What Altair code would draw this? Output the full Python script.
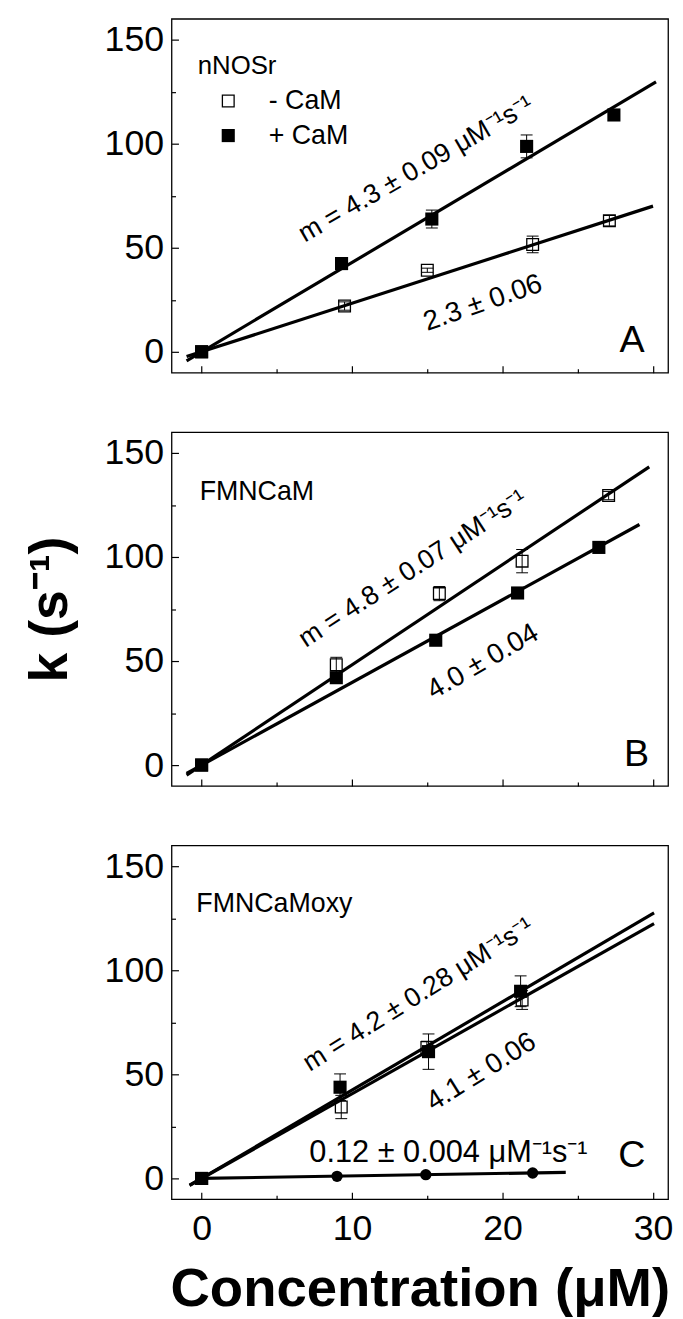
import altair as alt
import pandas as pd

# ---------------- data ----------------
# Panel A: nNOSr
A_minus_x = [0, 9.5, 15.0, 22.0, 27.1]
A_minus_y = [0, 22.0, 39.2, 51.6, 63.0]
A_minus_err = [1.0, 2.0, 1.0, 4.0, 2.5]
A_plus_x = [0, 9.3, 15.3, 21.6, 27.4]
A_plus_y = [0, 42.4, 63.8, 98.7, 113.8]
A_plus_err = [1.0, 1.5, 4.3, 5.5, 2.5]
A_fit_minus_x = [-1.0, 30.0]
A_fit_minus_y = [-2.3, 70.0]
A_fit_plus_x = [-1.0, 30.2]
A_fit_plus_y = [-4.3, 129.7]

# Panel B: FMNCaM
B_minus_x = [0, 8.95, 15.8, 21.3, 27.05]
B_minus_y = [0, 48.2, 82.4, 98.0, 129.5]
B_minus_err = [1.0, 3.6, 3.4, 5.6, 2.0]
B_plus_x = [0, 8.95, 15.56, 21.0, 26.4]
B_plus_y = [0, 42.0, 60.0, 82.7, 104.6]
B_plus_err = [1.0, 1.5, 1.5, 1.5, 1.5]
B_fit_minus_x = [-1.0, 29.75]
B_fit_minus_y = [-4.8, 143.3]
B_fit_plus_x = [-1.0, 29.1]
B_fit_plus_y = [-4.0, 115.6]

# Panel C: FMNCaMoxy
C_minus_x = [0, 9.28, 14.97, 21.3]
C_minus_y = [0, 34.3, 62.9, 85.7]
C_minus_err = [1.0, 5.6, 3.0, 4.5]
C_plus_x = [0, 9.2, 15.08, 21.2]
C_plus_y = [0, 43.8, 60.9, 89.9]
C_plus_err = [1.0, 6.4, 8.5, 7.4]
C_oxy_x = [9.0, 14.9, 22.0]
C_oxy_y = [1.0, 1.8, 2.6]
C_fit_plus_x = [-0.8, 30.07]
C_fit_plus_y = [-3.4, 127.6]
C_fit_minus_x = [-0.8, 30.07]
C_fit_minus_y = [-3.3, 122.4]
C_fit_oxy_x = [0.0, 24.2]
C_fit_oxy_y = [0.0, 2.9]

# annotations
A_text = ["m = 4.3 ± 0.09 μM⁻¹s⁻¹", "2.3 ± 0.06", "A"]
A_text_x = [14.25, 18.7, 28.6]
A_text_y = [87.6, 23.3, 5.1]
A_text_angle = [330, 341, 0]
A_text_size = [27, 28, 38]
A_label = ["nNOSr", "- CaM", "+ CaM"]
A_label_x = [-0.26, 4.46, 4.46]
A_label_y = [137.5, 120.5, 103.9]
A_label_size = [26, 27, 27]
A_legend_open_x = [1.77]
A_legend_open_y = [120.5]
A_legend_filled_x = [1.77]
A_legend_filled_y = [103.9]

B_text = ["m = 4.8 ± 0.07 μM⁻¹s⁻¹", "4.0 ± 0.04", "B"]
B_text_x = [14.05, 18.7, 28.9]
B_text_y = [94.3, 49.5, 4.6]
B_text_angle = [327, 330, 0]
B_text_size = [27, 28, 38]
B_label = ["FMNCaM"]
B_label_x = [-0.13]
B_label_y = [131.0]
B_label_size = [27]

C_text = ["m = 4.2 ± 0.28 μM⁻¹s⁻¹", "4.1 ± 0.06", "C"]
C_text_x = [14.4, 18.6, 28.6]
C_text_y = [88.2, 51.0, 10.5]
C_text_angle = [328, 328, 0]
C_text_size = [27, 28, 38]
C_label = ["FMNCaMoxy", "0.12 ± 0.004 μM⁻¹s⁻¹"]
C_label_x = [-0.35, 7.16]
C_label_y = [131.9, 12.0]
C_label_size = [27, 31]

X_major = [0, 10, 20, 30]
X_minor = [5, 15, 25]
Y_major = [0, 50, 100, 150]
Y_minor = [25, 75, 125]

# ---------------- styling ----------------
FONT = "Liberation Sans"
W, H = 501, 357
XDOM = [-2, 31]
YDOM = [-10, 160]


def X(field="x", axis=None):
    return alt.X(f"{field}:Q", scale=alt.Scale(domain=XDOM, nice=False, zero=False), axis=axis)


def Y(field="y", axis=None):
    return alt.Y(f"{field}:Q", scale=alt.Scale(domain=YDOM, nice=False, zero=False), axis=axis)


def sdf(x, y, e):
    return pd.DataFrame({"x": x, "y": y,
                         "lo": [a - b for a, b in zip(y, e)],
                         "hi": [a + b for a, b in zip(y, e)]})


def caps(df):
    lo = df[["x", "lo"]].rename(columns={"lo": "y"})
    hi = df[["x", "hi"]].rename(columns={"hi": "y"})
    return pd.concat([lo, hi], ignore_index=True)


def tick_axis(orient, offset, values, size):
    return alt.Axis(orient=orient, offset=offset, values=values, ticks=True, tickSize=size,
                    tickWidth=1.2, tickColor="black", labels=False, domain=False, grid=False,
                    title="")


def panel(minus, plus, fits, texts, labels, oxy=None, legend=None, ytitle="", xlabels=False):
    mdf = sdf(*minus)
    pdf = sdf(*plus)
    fit_rows = []
    for gi, (fx, fy) in enumerate(fits):
        for a, b in zip(fx, fy):
            fit_rows.append({"x": a, "y": b, "g": gi})
    fdf = pd.DataFrame(fit_rows)
    edf = pd.concat([mdf, pdf], ignore_index=True)
    cdf = caps(edf)
    tdf = pd.DataFrame({"t": texts[0], "x": texts[1], "y": texts[2], "a": texts[3], "s": texts[4]})
    ldf = pd.DataFrame({"t": labels[0], "x": labels[1], "y": labels[2], "s": labels[3]})

    layers = [
        alt.Chart(fdf).mark_line(color="black", strokeWidth=3.2).encode(X(), Y(), detail="g:N"),
        alt.Chart(edf).mark_rule(color="black", strokeWidth=1).encode(X(), Y("lo"), y2="hi"),
        alt.Chart(cdf).mark_tick(orient="horizontal", size=12, thickness=1, color="black",
                                 opacity=1).encode(X(), Y()),
        alt.Chart(mdf).mark_point(shape="square", filled=False, size=140, color="black",
                                  strokeWidth=1.3, opacity=1).encode(X(), Y()),
        alt.Chart(pdf).mark_point(shape="square", filled=True, size=175, color="black",
                                  opacity=1).encode(X(), Y()),
    ]
    if oxy is not None:
        odf = pd.DataFrame({"x": oxy[0], "y": oxy[1]})
        layers.append(alt.Chart(odf).mark_point(shape="circle", filled=True, size=130,
                                                color="black", opacity=1).encode(X(), Y()))
    if legend is not None:
        lo_df = pd.DataFrame({"x": legend[0], "y": legend[1]})
        lf_df = pd.DataFrame({"x": legend[2], "y": legend[3]})
        layers.append(alt.Chart(lo_df).mark_point(shape="square", filled=False, size=140,
                                                  color="black", strokeWidth=1.3,
                                                  opacity=1).encode(X(), Y()))
        layers.append(alt.Chart(lf_df).mark_point(shape="square", filled=True, size=175,
                                                  color="black", opacity=1).encode(X(), Y()))
    layers.append(
        alt.Chart(tdf).mark_text(align="center", baseline="middle", font=FONT, color="black")
        .encode(X(), Y(), text="t:N", angle=alt.Angle("a:Q", scale=None),
                size=alt.Size("s:Q", scale=None))
    )
    layers.append(
        alt.Chart(ldf).mark_text(align="left", baseline="middle", font=FONT, color="black")
        .encode(X(), Y(), text="t:N", size=alt.Size("s:Q", scale=None))
    )

    ylab = alt.Axis(orient="left", values=Y_major, ticks=False, tickSize=0, domain=False,
                    grid=False, labelFont=FONT, labelFontSize=36, labelPadding=8,
                    labelColor="black", labelFlush=False, title=ytitle, titleFont=FONT,
                    titleFontSize=54, titleFontWeight="bold", titleColor="black",
                    titlePadding=27)
    xmaj = tick_axis("top", -H, X_major, 7)
    xmin = tick_axis("top", -H, X_minor, 4)
    ymaj = tick_axis("right", -W, Y_major, 7)
    ymin = tick_axis("right", -W, Y_minor, 4)
    if xlabels:
        xlab = alt.Axis(orient="bottom", values=X_major, ticks=False, tickSize=0, domain=False,
                        grid=False, labelFont=FONT, labelFontSize=36, labelPadding=13,
                        labelColor="black", labelFlush=False, title="Concentration (μM)",
                        titleFont=FONT, titleFontSize=55, titleFontWeight="bold",
                        titleColor="black", titlePadding=16)
        x3 = X(axis=xlab)
    else:
        x3 = X()
    layers.append(alt.Chart(mdf).mark_point(opacity=0).encode(X(axis=xmaj), Y(axis=ylab)))
    layers.append(alt.Chart(mdf).mark_point(opacity=0).encode(X(axis=xmin), Y(axis=ymaj)))
    layers.append(alt.Chart(mdf).mark_point(opacity=0).encode(x3, Y(axis=ymin)))

    return alt.layer(*layers).resolve_axis(x="independent", y="independent").properties(
        width=W, height=H)


pA = panel(
    (A_minus_x, A_minus_y, A_minus_err), (A_plus_x, A_plus_y, A_plus_err),
    [(A_fit_minus_x, A_fit_minus_y), (A_fit_plus_x, A_fit_plus_y)],
    (A_text, A_text_x, A_text_y, A_text_angle, A_text_size),
    (A_label, A_label_x, A_label_y, A_label_size),
    legend=(A_legend_open_x, A_legend_open_y, A_legend_filled_x, A_legend_filled_y),
)
pB = panel(
    (B_minus_x, B_minus_y, B_minus_err), (B_plus_x, B_plus_y, B_plus_err),
    [(B_fit_minus_x, B_fit_minus_y), (B_fit_plus_x, B_fit_plus_y)],
    (B_text, B_text_x, B_text_y, B_text_angle, B_text_size),
    (B_label, B_label_x, B_label_y, B_label_size),
    ytitle="k (s⁻¹)",
)
pC = panel(
    (C_minus_x, C_minus_y, C_minus_err), (C_plus_x, C_plus_y, C_plus_err),
    [(C_fit_minus_x, C_fit_minus_y), (C_fit_plus_x, C_fit_plus_y), (C_fit_oxy_x, C_fit_oxy_y)],
    (C_text, C_text_x, C_text_y, C_text_angle, C_text_size),
    (C_label, C_label_x, C_label_y, C_label_size),
    oxy=(C_oxy_x, C_oxy_y),
    xlabels=True,
)

chart = alt.vconcat(pA, pB, pC, spacing=60, bounds="flush").properties(
    padding={"left": 15, "top": 4, "right": 1, "bottom": 0},
    background="white",
).configure_view(stroke="black", strokeWidth=1.3)

chart.save("out.html", embed_options={"renderer": "svg", "actions": False})
